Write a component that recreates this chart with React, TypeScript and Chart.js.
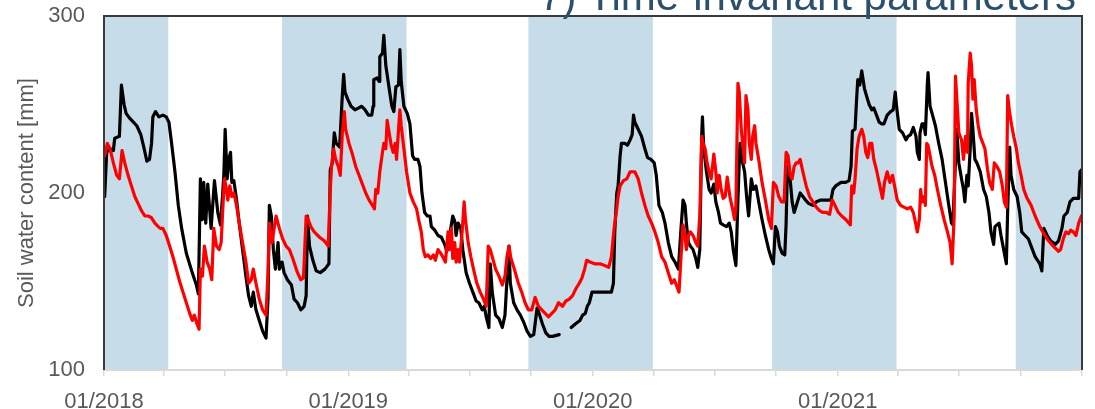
import { useEffect, useRef } from "react";
import { Chart, registerables } from "chart.js";

Chart.register(...registerables);

// Day numbers are counted from 1 January 2018.
const START = Date.UTC(2018, 0, 1);
const dayOf = (iso: string) => Math.round((Date.parse(iso + "T00:00:00Z") - START) / 86400000);

const tickDates = [
  "2018-01-01", "2018-04-01", "2018-07-01", "2018-10-01",
  "2019-01-01", "2019-04-01", "2019-07-01", "2019-10-01",
  "2020-01-01", "2020-04-01", "2020-07-01", "2020-10-01",
  "2021-01-01", "2021-04-01", "2021-07-01", "2021-10-01",
  "2022-01-01",
];
const tickLabels = [
  "01/2018", "", "", "",
  "01/2019", "", "", "",
  "01/2020", "", "", "",
  "01/2021", "", "", "",
  "",
];

// Winter half-years shaded behind the series
const winterStarts = ["2018-01-01", "2018-09-24", "2019-09-27", "2020-09-25", "2021-09-24"];
const winterEnds = ["2018-04-07", "2019-03-29", "2020-03-31", "2021-03-30", "2022-01-01"];

// Observed soil water content (black)
const obsDays = [
  1, 4, 9, 14, 16, 23, 26, 30, 33, 39, 49, 55, 60, 64, 68, 71, 73, 77, 82, 88, 93, 97, 101, 106, 111, 116, 123, 131, 138, 141,
  144, 147, 149, 152, 155, 160, 165, 170, 174, 177, 179, 181, 184, 187, 189, 191, 194, 198, 202, 207, 212, 216, 220, 223, 227, 232, 237, 242, 245, 247,
  250, 253, 256, 260, 262, 266, 269, 274, 280, 284, 289, 294, 299, 302, 304, 307, 312, 317, 323, 330, 336, 338, 341, 344, 347, 352, 356, 358, 360, 364,
  369, 375, 380, 385, 390, 395, 400, 402, 403, 408, 411, 412, 416, 418, 421, 426, 430, 433, 436, 440, 442, 444, 448, 453, 457, 461, 464, 469, 472, 475,
  479, 483, 487, 489, 494, 499, 504, 509, 512, 515, 518, 521, 524, 526, 529, 533, 536, 541, 546, 551, 556, 560, 565, 568, 571, 575, 577, 580, 585, 590,
  595, 599, 602, 605, 607, 612, 617, 622, 627, 632, 637, 642, 647, 650, 655, 660, 665, 670, 680, 689, 698, 704, 711, 715, 719, 722, 725, 729, 735, 743,
  751, 758, 761, 763, 766, 768, 771, 773, 778, 782, 786, 789, 791, 793, 798, 803, 808, 812, 817, 822, 825, 829, 834, 838, 843, 848, 853, 858, 862, 865,
  868, 870, 873, 876, 880, 884, 887, 890, 893, 894, 896, 900, 904, 907, 911, 914, 918, 921, 925, 930, 934, 937, 940, 944, 947, 950, 953, 957, 960, 963,
  967, 970, 974, 978, 983, 988, 993, 997, 1000, 1003, 1006, 1009, 1013, 1017, 1019, 1021, 1024, 1028, 1031, 1036, 1040, 1044, 1048, 1053, 1059, 1064, 1071, 1079, 1086, 1089,
  1093, 1101, 1108, 1113, 1116, 1118, 1122, 1124, 1126, 1129, 1132, 1136, 1139, 1143, 1147, 1150, 1154, 1158, 1162, 1165, 1170, 1175, 1179, 1182, 1184, 1188, 1193, 1198, 1201, 1205,
  1209, 1213, 1215, 1218, 1219, 1222, 1225, 1227, 1230, 1231, 1234, 1237, 1242, 1247, 1252, 1257, 1262, 1266, 1268, 1274, 1277, 1281, 1284, 1286, 1289, 1291, 1294, 1296, 1298, 1301,
  1304, 1309, 1314, 1318, 1322, 1325, 1329, 1331, 1337, 1340, 1344, 1348, 1350, 1353, 1355, 1359, 1364, 1368, 1371, 1376, 1381, 1385, 1391, 1398, 1401, 1404, 1409, 1414, 1421, 1426,
  1431, 1434, 1439, 1443, 1448, 1456, 1458, 1460,
];
const obsValues = [
  198, 223, 225, 224, 231, 232, 261, 250, 245, 242, 238, 233, 225, 218, 219, 228, 243, 246, 243, 244, 243, 240, 228, 212, 193, 180, 166, 156, 148, 143,
  208, 185, 206, 183, 205, 180, 207, 189, 182, 198, 210, 236, 208, 220, 223, 206, 207, 196, 183, 168, 153, 142, 136, 144, 134, 128, 122, 118, 140, 193,
  187, 168, 157, 172, 157, 161, 155, 151, 148, 140, 138, 134, 136, 142, 187, 170, 162, 156, 155, 157, 160, 213, 217, 234, 228, 226, 255, 267, 257, 253,
  249, 247, 248, 249, 247, 244, 244, 249, 264, 265, 263, 277, 279, 289, 272, 259, 249, 246, 260, 261, 281, 263, 249, 245, 239, 221, 219, 219, 215, 200,
  189, 187, 187, 181, 179, 176, 175, 171, 167, 172, 180, 187, 184, 176, 183, 180, 168, 155, 149, 144, 139, 138, 134, 136, 130, 124, 160, 144, 131, 129,
  124, 131, 151, 170, 149, 138, 134, 131, 127, 122, 119, 120, 135, 132, 126, 121, 119, 119, 120, null, 124, 126, 128, 131, 132, 136, 138, 144, 144, 144,
  144, 144, 149, 178, 200, 204, 221, 228, 228, 227, 230, 233, 244, 240, 236, 232, 225, 220, 219, 217, 210, 193, 189, 183, 172, 164, 161, 157, 180, 196,
  193, 183, 172, 170, 168, 163, 158, 168, 234, 243, 225, 212, 202, 200, 205, 195, 189, 183, 182, 181, 183, 178, 168, 159, 196, 228, 219, 212, 198, 187,
  208, 202, 204, 195, 185, 176, 168, 163, 160, 181, 178, 170, 166, 165, 183, 215, 212, 195, 189, 195, 200, 198, 196, 194, 193, 195, 196, 196, 196, 202,
  204, 206, 206, 207, 215, 235, 236, 251, 264, 261, 269, 259, 255, 250, 247, 248, 244, 240, 239, 239, 244, 246, 247, 257, 249, 236, 234, 230, 232, 233,
  237, 232, 223, 219, 234, 239, 239, 233, 262, 268, 249, 245, 238, 228, 219, 206, 193, 183, 182, 236, 217, 208, 202, 195, 210, 204, 225, 245, 236, 219,
  217, 212, 202, 198, 189, 178, 171, 181, 183, 176, 168, 160, 191, 226, 210, 202, 198, 189, 178, 176, 174, 170, 164, 160, 156, 180, 176, 173, 171, 173,
  180, 187, 189, 195, 197, 197, 212, 213,
];

// Simulated soil water content (red)
const simDays = [
  1, 5, 9, 14, 19, 23, 27, 31, 36, 41, 46, 51, 56, 61, 66, 71, 76, 81, 84, 88, 93, 98, 103, 108, 113, 118, 123, 128, 132, 135,
  139, 142, 144, 147, 150, 154, 158, 161, 164, 168, 172, 175, 178, 180, 183, 185, 188, 191, 194, 198, 202, 207, 212, 216, 220, 223, 227, 232, 237, 242,
  245, 247, 251, 257, 262, 267, 272, 277, 282, 289, 294, 298, 302, 304, 309, 314, 322, 329, 335, 338, 340, 343, 346, 350, 353, 356, 359, 361, 366, 371,
  376, 381, 386, 391, 396, 401, 404, 406, 409, 412, 416, 418, 421, 423, 426, 429, 432, 435, 437, 440, 442, 444, 448, 452, 457, 462, 467, 470, 474, 477,
  480, 484, 488, 492, 495, 499, 503, 506, 510, 514, 516, 519, 521, 524, 526, 529, 531, 535, 538, 540, 544, 548, 552, 557, 562, 567, 571, 574, 577, 580,
  585, 590, 595, 599, 602, 605, 608, 613, 619, 624, 629, 634, 639, 644, 649, 654, 659, 664, 669, 674, 679, 685, 690, 695, 700, 705, 710, 714, 718, 721,
  726, 733, 741, 748, 754, 758, 762, 766, 768, 771, 776, 781, 786, 789, 793, 798, 803, 808, 813, 818, 823, 828, 833, 838, 843, 848, 852, 855, 859, 862,
  865, 868, 870, 873, 876, 880, 884, 887, 890, 893, 895, 898, 901, 904, 907, 911, 914, 916, 919, 922, 925, 928, 931, 935, 939, 942, 944, 947, 949, 952,
  954, 957, 959, 962, 964, 967, 969, 972, 974, 978, 983, 988, 993, 997, 1000, 1004, 1008, 1012, 1016, 1019, 1022, 1025, 1028, 1031, 1034, 1037, 1040, 1044, 1049, 1054,
  1059, 1064, 1069, 1074, 1079, 1084, 1088, 1092, 1097, 1102, 1108, 1115, 1117, 1120, 1122, 1125, 1128, 1132, 1135, 1138, 1141, 1144, 1147, 1150, 1154, 1159, 1163, 1166, 1170, 1174,
  1178, 1181, 1185, 1190, 1195, 1200, 1205, 1209, 1213, 1215, 1218, 1220, 1222, 1225, 1227, 1229, 1231, 1234, 1237, 1241, 1245, 1250, 1255, 1260, 1264, 1267, 1270, 1272, 1275, 1277,
  1281, 1284, 1287, 1290, 1291, 1294, 1296, 1298, 1300, 1303, 1306, 1309, 1313, 1316, 1320, 1323, 1327, 1330, 1334, 1338, 1342, 1345, 1348, 1350, 1353, 1356, 1359, 1363, 1366, 1370,
  1374, 1379, 1385, 1391, 1398, 1404, 1411, 1418, 1426, 1429, 1433, 1437, 1441, 1444, 1448, 1452, 1456, 1460,
];
const simValues = [
  221, 228, 225, 217, 210, 208, 224, 217, 210, 204, 198, 194, 190, 187, 187, 186, 183, 181, 180, 180, 176, 170, 164, 157, 150, 144, 138, 132, 128, 131,
  126, 123, 157, 153, 170, 161, 157, 151, 180, 170, 168, 172, 195, 208, 202, 196, 204, 198, 200, 193, 183, 172, 161, 149, 151, 157, 149, 140, 134, 131,
  155, 183, 172, 187, 180, 174, 170, 168, 163, 155, 151, 152, 187, 186, 181, 178, 175, 173, 170, 202, 215, 225, 219, 215, 210, 234, 246, 236, 228, 222,
  215, 210, 205, 200, 196, 193, 191, 202, 200, 212, 223, 228, 225, 241, 234, 227, 223, 228, 219, 236, 247, 238, 225, 212, 200, 195, 191, 185, 178, 168,
  164, 165, 163, 165, 162, 168, 166, 164, 161, 178, 168, 180, 163, 172, 161, 168, 161, 178, 195, 185, 172, 164, 157, 149, 144, 140, 136, 170, 168, 164,
  157, 153, 148, 153, 164, 170, 163, 157, 149, 144, 138, 134, 134, 141, 136, 134, 132, 130, 132, 134, 138, 136, 139, 140, 142, 146, 149, 152, 157, 162,
  161, 160, 160, 159, 158, 164, 180, 191, 198, 204, 207, 208, 212, 212, 212, 208, 200, 193, 187, 183, 178, 172, 164, 161, 155, 149, 151, 148, 144, 164,
  182, 176, 168, 176, 178, 176, 172, 170, 187, 232, 228, 225, 217, 212, 208, 222, 212, 200, 210, 202, 197, 198, 209, 198, 191, 185, 193, 262, 257, 236,
  228, 217, 255, 247, 228, 219, 232, 238, 228, 219, 206, 196, 185, 180, 206, 204, 198, 195, 195, 223, 221, 210, 208, 215, 217, 217, 219, 212, 204, 198,
  195, 192, 190, 189, 189, 188, 196, 193, 189, 187, 185, 182, 204, 200, 208, 225, 232, 236, 232, 223, 220, 228, 228, 219, 213, 204, 197, 206, 212, 206,
  210, 204, 196, 193, 192, 191, 192, 189, 182, 178, 185, 202, 195, 198, 193, 228, 227, 221, 215, 210, 202, 193, 185, 178, 172, 160, 187, 266, 247, 234,
  230, 219, 232, 223, 262, 279, 272, 253, 264, 247, 238, 232, 228, 225, 213, 206, 202, 217, 215, 212, 204, 195, 192, 255, 245, 238, 232, 225, 217, 210,
  202, 197, 193, 187, 181, 177, 173, 170, 167, 168, 174, 178, 177, 179, 178, 176, 183, 187,
];

const AXIS_TEXT = "#595959";
const FONT_FAMILY = "'Liberation Sans', Arial, sans-serif";

const winterShading = {
  id: "winterShading",
  beforeDatasetsDraw(chart: any) {
    const { ctx, chartArea, scales } = chart;
    ctx.save();
    ctx.fillStyle = "#c6dce9";
    winterStarts.forEach((s, i) => {
      const x1 = scales.x.getPixelForValue(dayOf(s));
      const x2 = scales.x.getPixelForValue(dayOf(winterEnds[i]));
      ctx.fillRect(x1, chartArea.top, x2 - x1, chartArea.bottom - chartArea.top);
    });
    ctx.restore();
  },
};

const plotFrame = {
  id: "plotFrame",
  afterDatasetsDraw(chart: any) {
    const { ctx, chartArea } = chart;
    const { left, right, top, bottom } = chartArea;
    ctx.save();
    ctx.lineWidth = 2;
    ctx.strokeStyle = "#d9d9d9";
    ctx.beginPath();
    ctx.moveTo(left, bottom);
    ctx.lineTo(right, bottom);
    ctx.stroke();
    ctx.strokeStyle = "#3a3a3a";
    ctx.beginPath();
    ctx.moveTo(left, bottom);
    ctx.lineTo(left, top);
    ctx.lineTo(right, top);
    ctx.lineTo(right, bottom);
    ctx.stroke();
    ctx.restore();
  },
};

export default function App() {
  const canvasRef = useRef<HTMLCanvasElement | null>(null);

  useEffect(() => {
    const canvas = canvasRef.current;
    if (!canvas) return;
    const tickDays = tickDates.map(dayOf);

    const chart = new Chart(canvas, {
      type: "line",
      data: {
        datasets: [
          {
            label: "Simulated",
            data: simDays.map((d, i) => ({ x: d, y: simValues[i] })),
            borderColor: "#ff0000",
            borderWidth: 3.2,
            pointRadius: 0,
            tension: 0,
            borderJoinStyle: "round",
            borderCapStyle: "round",
          },
          {
            label: "Observed",
            data: obsDays.map((d, i) => ({ x: d, y: obsValues[i] })),
            borderColor: "#000000",
            borderWidth: 3.2,
            pointRadius: 0,
            tension: 0,
            spanGaps: false,
            borderJoinStyle: "round",
            borderCapStyle: "round",
          },
        ],
      },
      options: {
        responsive: false,
        animation: false,
        events: [],
        layout: { padding: { top: 16, right: 11, left: 0, bottom: 0 } },
        plugins: {
          legend: { display: false },
          tooltip: { enabled: false },
        },
        scales: {
          x: {
            type: "linear",
            min: 0,
            max: dayOf("2022-01-01"),
            afterBuildTicks: (axis: any) => {
              axis.ticks = tickDays.map((v) => ({ value: v }));
            },
            afterFit: (scale: any) => {
              scale.height = 39;
            },
            ticks: {
              autoSkip: false,
              maxRotation: 0,
              color: AXIS_TEXT,
              font: { family: FONT_FAMILY, size: 22 },
              padding: 13,
              callback: (_v: any, i: number) => tickLabels[i] ?? "",
            },
            grid: {
              display: true,
              drawOnChartArea: false,
              drawTicks: true,
              tickLength: 6,
              color: "#d9d9d9",
              lineWidth: 1.5,
            },
            border: { display: false },
          },
          y: {
            min: 100,
            max: 300,
            afterBuildTicks: (axis: any) => {
              axis.ticks = [100, 200, 300].map((v) => ({ value: v }));
            },
            afterFit: (scale: any) => {
              scale.width = 104;
              scale.paddingTop = 0;
              scale.paddingBottom = 0;
            },
            ticks: {
              color: AXIS_TEXT,
              font: { family: FONT_FAMILY, size: 22 },
              padding: 19,
            },
            grid: { display: false, drawTicks: false },
            border: { display: false },
            title: {
              display: true,
              text: "Soil water content [mm]",
              color: AXIS_TEXT,
              font: { family: FONT_FAMILY, size: 22 },
              padding: { top: 14, bottom: 0 },
            },
          },
        },
      },
      plugins: [winterShading, plotFrame],
    } as any);

    return () => chart.destroy();
  }, []);

  return (
    <div style={{ position: "fixed", left: 0, top: 0, width: 1095, height: 409, background: "#ffffff", overflow: "hidden" }}>
      <canvas ref={canvasRef} width={1095} height={409} style={{ display: "block" }} />
      <div
        style={{
          position: "absolute",
          right: 19,
          top: -24,
          fontFamily: FONT_FAMILY,
          fontSize: 42,
          lineHeight: "40px",
          color: "#2b506b",
          whiteSpace: "nowrap",
        }}
      >
        7) Time-invariant parameters
      </div>
    </div>
  );
}
